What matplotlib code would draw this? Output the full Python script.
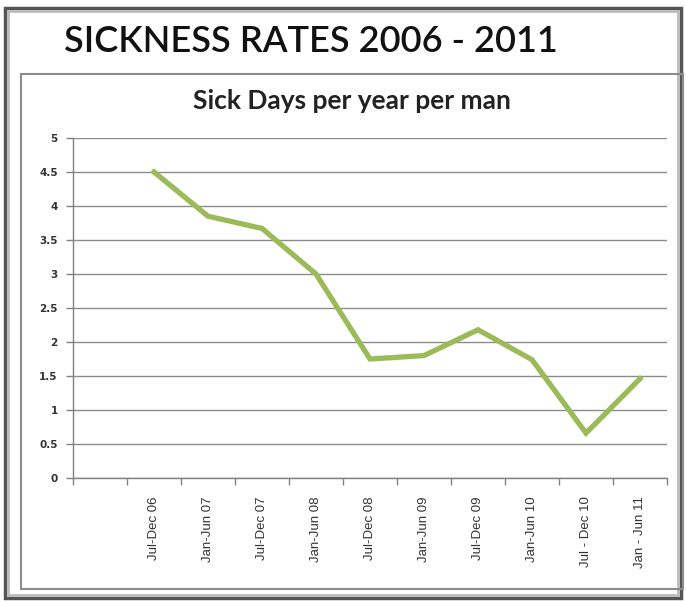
import matplotlib
matplotlib.use("Agg")
import matplotlib.pyplot as plt
from matplotlib.patches import Rectangle

categories = ["", "Jul-Dec 06", "Jan-Jun 07", "Jul-Dec 07", "Jan-Jun 08", "Jul-Dec 08",
              "Jan-Jun 09", "Jul-Dec 09", "Jan-Jun 10", "Jul - Dec 10", "Jan - Jun 11"]
values = [None, 4.5, 3.85, 3.67, 3.0, 1.75, 1.8, 2.18, 1.74, 0.66, 1.46]
yticks = [0, 0.5, 1, 1.5, 2, 2.5, 3, 3.5, 4, 4.5, 5]
ytick_labels = ["0", "0.5", "1", "1.5", "2", "2.5", "3", "3.5", "4", "4.5", "5"]

W, H = 686, 601
fig = plt.figure(figsize=(W / 100, H / 100), dpi=100)
fig.patch.set_facecolor("white")

def fx(px):
    return px / W

def fy(py):
    return 1 - py / H

# outer frame with shadow
fig.patches.append(Rectangle((fx(5), fy(598)), fx(681 - 5), (598 - 8) / H,
                             transform=fig.transFigure, fill=False,
                             edgecolor="#555555", linewidth=2.5))
fig.patches.append(Rectangle((fx(8), fy(595)), fx(678 - 8), (595 - 11) / H,
                             transform=fig.transFigure, fill=False,
                             edgecolor="#bbbbbb", linewidth=2))
# inner chart box
fig.patches.append(Rectangle((fx(21), fy(589)), fx(683 - 21), (589 - 74) / H,
                             transform=fig.transFigure, fill=False,
                             edgecolor="#8c8c8c", linewidth=1.5))

fig.text(fx(311), fy(42), "SICKNESS RATES 2006 - 2011", ha="center", va="center",
         fontsize=26, family=["Lato", "DejaVu Sans"], fontweight="semibold", color="#111111")
fig.text(fx(352), fy(101), "Sick Days per year per man", ha="center", va="center",
         fontsize=19, family=["Lato", "DejaVu Sans"], fontweight="bold", color="#222222")

ax = fig.add_axes([fx(73), fy(478), fx(667 - 73), (478 - 138) / H])
xs = [i + 0.5 for i, v in enumerate(values) if v is not None]
ys = [v for v in values if v is not None]
ax.plot(xs, ys, color="#9BBB59", linewidth=3.8, solid_joinstyle="miter", zorder=3)

ax.set_xlim(0, len(categories))
ax.set_ylim(0, 5)
ax.set_yticks(yticks)
ax.set_yticklabels(ytick_labels)
ax.set_xticks(range(len(categories) + 1))
ax.set_xticklabels([])
ax.set_xticks([i + 0.5 for i in range(len(categories))], minor=True)
ax.set_xticklabels(categories, minor=True, rotation=90, va="top", ha="center")
ax.tick_params(axis="x", which="minor", length=0, pad=13, labelsize=9.5, labelcolor="#333333")
ax.tick_params(axis="x", which="major", length=5, color="#808080", width=1)
ax.tick_params(axis="y", length=5, color="#808080", width=1, labelsize=7.5, labelcolor="#333333", pad=6)
for lbl in ax.get_xticklabels(minor=True):
    lbl.set_family(["Liberation Sans", "DejaVu Sans"])
for lbl in ax.get_yticklabels():
    lbl.set_family(["DejaVu Sans"])
    lbl.set_fontweight("bold")

ax.grid(axis="y", color="#8c8c8c", linewidth=1)
ax.set_axisbelow(True)
for s in ["top", "right"]:
    ax.spines[s].set_visible(False)
for s in ["left", "bottom"]:
    ax.spines[s].set_color("#808080")
    ax.spines[s].set_linewidth(1)

fig.savefig("out.png", dpi=100, facecolor="white")
